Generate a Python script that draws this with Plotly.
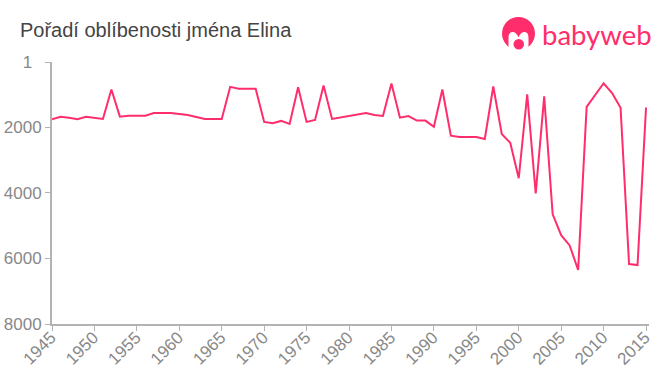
import plotly.graph_objects as go

years = list(range(1945, 2016))
ranks = [1750, 1670, 1700, 1750, 1670, 1710, 1740, 840, 1670, 1640,
         1640, 1640, 1560, 1560, 1560, 1590, 1620, 1680, 1740, 1740,
         1740, 760, 815, 815, 815, 1830, 1870, 1800, 1890, 770,
         1830, 1770, 720, 1740, 1700, 1650, 1620, 1560, 1620, 1650,
         660, 1700, 1650, 1790, 1790, 1980, 840, 2250, 2290, 2290,
         2290, 2350, 750, 2200, 2470, 3550, 990, 4010, 1050, 4650,
         5290, 5600, 6350, 1370, 1000, 650, 950, 1400, 6170, 6200, 1390]
x_ticks = list(range(1945, 2016, 5))
y_ticks = [1, 2000, 4000, 6000, 8000]
y_labels = ["1\u00a0\u00a0", "2000", "4000", "6000", "8000"]
title = "Pořadí oblíbenosti jména Elina"
brand = "babyweb"
PINK = "#ff2d6b"
W, H = 660, 375


def px(x):
    return x / W


def py(y):
    return 1 - y / H


head_white = ("M {a} {b} L {a} {c} Q {a} {d} {e} {f} Q {g} {h} {i} {j} "
              "Q {k} {h} {l} {f} Q {m} {d} {m} {c} L {m} {b} Z").format(
    a=px(508.5), b=py(50), c=py(38), d=py(31), e=px(513.5), f=py(32),
    g=px(517), h=py(33), i=px(518.5), j=py(37.5), k=px(520), l=px(523.5), m=px(528.5))

fig = go.Figure(go.Scatter(x=years, y=ranks, mode="lines",
                           line=dict(color=PINK, width=2), hoverinfo="skip"))
fig.update_layout(
    width=W, height=H, autosize=False, showlegend=False,
    paper_bgcolor="white", plot_bgcolor="white",
    margin=dict(l=0, r=0, t=0, b=0),
    font=dict(family="Liberation Sans, Arial, sans-serif", color="#888888"),
    title=dict(text=title, x=20 / W, xanchor="left", y=1 - 30 / H, yanchor="middle",
               font=dict(size=20, color="#444444")),
    xaxis=dict(domain=[52 / W, 649 / W], range=[1945, 2015.35], tickmode="array", tickvals=x_ticks,
               automargin=False, ticklabelstandoff=-10, ticklabelshift=-1,
               tickangle=-45, ticks="outside", ticklen=5, tickwidth=1, tickcolor="#b3b3b3",
               showline=True, linecolor="#b3b3b3", linewidth=2, showgrid=False, zeroline=False,
               tickfont=dict(size=17, color="#888888")),
    yaxis=dict(domain=[1 - 324 / H, 1 - 62 / H], range=[8000, 1], tickmode="array",
               tickvals=y_ticks, ticktext=y_labels, automargin=False,
               ticks="outside", ticklen=5, tickwidth=1, tickcolor="#b3b3b3",
               showline=True, linecolor="#b3b3b3", linewidth=2, showgrid=False, zeroline=False,
               tickfont=dict(size=17, color="#888888")),
    shapes=[
        dict(type="circle", xref="paper", yref="paper", x0=px(502), x1=px(535), y0=py(50), y1=py(17),
             fillcolor=PINK, line_width=0),
        dict(type="path", xref="paper", yref="paper", path=head_white, fillcolor="white", line_width=0),
        dict(type="circle", xref="paper", yref="paper", x0=px(513.5), x1=px(524), y0=py(49.5), y1=py(39),
             fillcolor=PINK, line_width=0),
    ],
    annotations=[dict(text=brand, xref="paper", yref="paper", x=px(539.5), y=py(34),
                      xanchor="left", yanchor="middle", showarrow=False,
                      font=dict(family="Lato, sans-serif", size=27.5, color=PINK))],
)
fig.write_html("out.html", post_script="document.body.style.margin='0';",
               config={"displayModeBar": False})
